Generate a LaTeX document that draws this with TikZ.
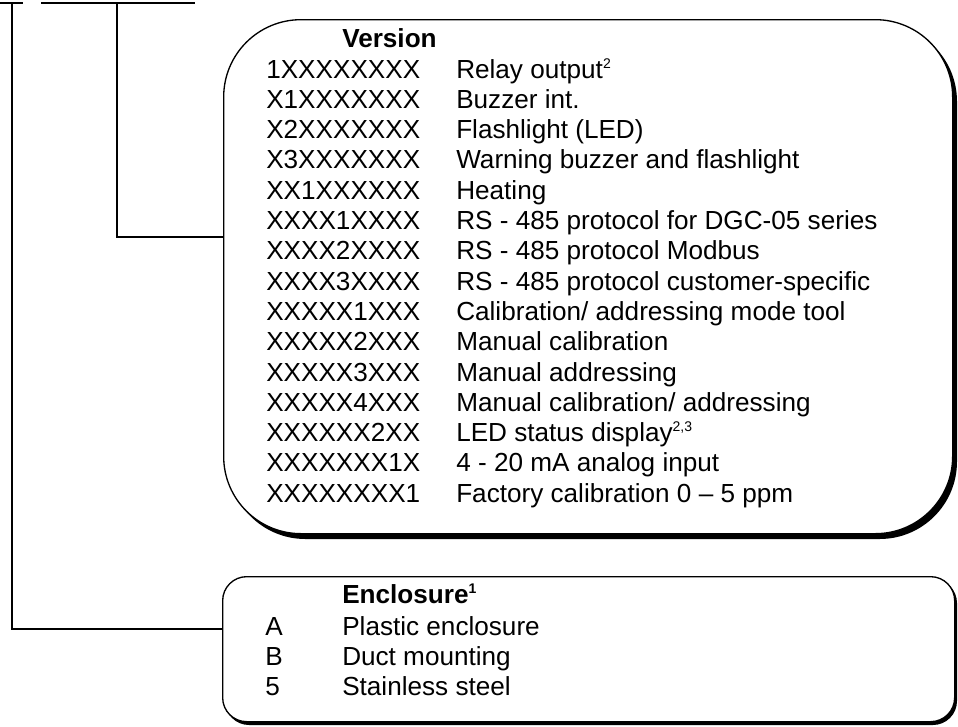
\documentclass[tikz,border=0pt]{standalone}
\usepackage{fontspec}
\setmainfont{Liberation Sans}
\newcommand\supx[1]{\raisebox{7.5pt}{\fontsize{10.5}{12}\selectfont #1}}
\begin{document}
\begin{tikzpicture}[x=0.75pt,y=-0.75pt,
  conn/.style={line width=0.9pt},
  boxline/.style={line width=1pt, fill=white},
  shadowfill/.style={fill=black},
  txt/.style={anchor=base west, inner sep=0pt, font=\fontsize{19.6}{22}\selectfont},
  hdr/.style={anchor=base west, inner sep=0pt, font=\fontsize{19.6}{22}\selectfont\bfseries}]
\useasboundingbox (0,0) rectangle (958,726);
% Version box with shadow
\fill[shadowfill, rounded corners=58pt] (228,24) rectangle (957,539);
\node[boxline, draw, rounded corners=58pt, minimum width=729*0.75pt, minimum height=514*0.75pt, anchor=north west, inner sep=0pt] (vbox) at (223,19) {};
% Enclosure box with shadow
\fill[shadowfill, rounded corners=18pt] (225,579) rectangle (957,725);
\node[boxline, draw, rounded corners=18pt, minimum width=732*0.75pt, minimum height=145*0.75pt, anchor=north west, inner sep=0pt] (ebox) at (222,576) {};
% connectors
\coordinate (a1) at (0,3);
\coordinate (a2) at (23,3);
\coordinate (a3) at (12,3);
\coordinate (b1) at (41,3);
\coordinate (b2) at (195,3);
\coordinate (b3) at (117,3);
\coordinate (ev) at (12,629);
\coordinate (vv) at (117,237);
\draw[conn] (a1) -- (a2);
\draw[conn] (b1) -- (b2);
\draw[conn] (a3) |- (ebox.west |- ev);
\draw[conn] (b3) |- (vbox.west |- vv);
% Version text
\node[hdr] (vh) at (342,47) {Version};
\foreach \c/\d [count=\i from 0] in {
 1XXXXXXXX/{Relay output\supx{2}},
 X1XXXXXXX/{Buzzer int.},
 X2XXXXXXX/{Flashlight (LED)},
 X3XXXXXXX/{Warning buzzer and flashlight},
 XX1XXXXXX/{Heating},
 XXXX1XXXX/{RS - 485 protocol for DGC-05 series},
 XXXX2XXXX/{RS - 485 protocol Modbus},
 XXXX3XXXX/{RS - 485 protocol customer-specific},
 XXXXX1XXX/{Calibration/ addressing mode tool},
 XXXXX2XXX/{Manual calibration},
 XXXXX3XXX/{Manual addressing},
 XXXXX4XXX/{Manual calibration/ addressing},
 XXXXXX2XX/{LED status display\supx{2,3}},
 XXXXXXX1X/{4 - 20 mA analog input},
 XXXXXXXX1/{Factory calibration 0 – 5 ppm}}
{
 \node[txt] (vc\i) at (266,78+30.3*\i) {\c};
 \node[txt] (vd\i) at (456,78+30.3*\i) {\d};
}
% Enclosure text
\node[hdr] (eh) at (342,603) {Enclosure\supx{\bfseries 1}};
\foreach \c/\d [count=\i from 0] in {A/{Plastic enclosure},B/{Duct mounting},5/{Stainless steel}}
{
 \node[txt] (ec\i) at (265,635+30*\i) {\c};
 \node[txt] (ed\i) at (342,635+30*\i) {\d};
}
\end{tikzpicture}
\end{document}
